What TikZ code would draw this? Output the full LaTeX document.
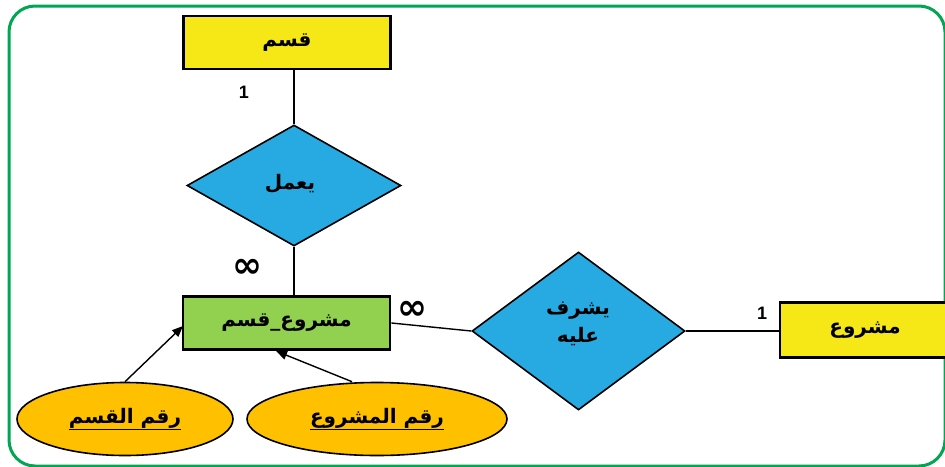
\documentclass[tikz,border=0pt]{standalone}
\usepackage{fontspec}
\setmainfont{DejaVu Sans}
\newfontfamily\arabicfont[Script=Arabic]{DejaVu Sans}
\newfontfamily\numfont{Liberation Sans}
\TeXXeTstate=1
\usetikzlibrary{shapes.geometric,arrows.meta}
\definecolor{frameGreen}{RGB}{0,166,81}
\definecolor{entYellow}{RGB}{245,232,22}
\definecolor{entGreen}{RGB}{146,208,80}
\definecolor{relBlue}{RGB}{38,170,225}
\definecolor{attrOrange}{RGB}{255,192,0}
\newcommand{\ar}[1]{{\arabicfont\bfseries\beginR #1\endR}}
\tikzset{
  arabic/.style={font=\fontsize{20}{23}\selectfont},
  entity/.style={draw=black, line width=2.8pt, minimum width=207pt, minimum height=53pt, inner sep=0pt, arabic},
  relation/.style={diamond, draw=black, line width=1.6pt, fill=relBlue, inner sep=0pt},
  attribute/.style={ellipse, draw=black, line width=1.6pt, fill=attrOrange, inner sep=0pt, arabic},
  link/.style={draw=black, line width=1.4pt},
  keyarrow/.style={link, -{Triangle[length=11pt,width=9pt]}},
  card/.style={font=\numfont\bfseries\fontsize{18}{20}\selectfont},
  infty/.style={font=\bfseries\fontsize{36}{38}\selectfont}
}
\begin{document}
\begin{tikzpicture}[x=1pt,y=-1pt]
\useasboundingbox (0,0) rectangle (945,466);
\begin{scope}
\clip (0,0) rectangle (945,466);
\draw[frameGreen, line width=3pt, rounded corners=26pt] (9,6) rectangle (945,466);

% entities
\node[entity, fill=entYellow] (dept) at (287,42.5) {\ar{قسم}};
\node[entity, fill=entGreen] (deptproj) at (286.5,323) {\ar{مشروع\_قسم}};
\node[entity, fill=entYellow, minimum width=170pt, minimum height=55pt] (proj) at (865,330) {\ar{مشروع}};

% relationships
\node[relation, minimum width=214pt, minimum height=121pt] (works) at (294,185.5) {};
\node[arabic] (workslbl) at (290,184) {\ar{يعمل}};
\node[relation, minimum width=213pt, minimum height=158pt] (super) at (578.5,331) {};
\node[align=center, font=\fontsize{20}{28}\selectfont] (superlbl) at (578,324) {\ar{يشرف}\\\ar{عليه}};

% attributes
\node[attribute, minimum width=216pt, minimum height=73pt] (deptno) at (125,419) {\underline{\hbox{\ar{رقم القسم}}}};
\node[attribute, minimum width=260pt, minimum height=73pt] (projno) at (377,419) {\underline{\hbox{\ar{رقم المشروع}}}};

% connectors
\draw[link] (dept.south -| works.north) -- (works.north);
\draw[link] (works.south) -- (works.south |- deptproj.north);
\draw[link] (deptproj.east) -- (super.west);
\draw[link] (super.east) -- (super.east -| proj.west);

\coordinate (a1) at (183,326);
\coordinate (a2) at (276,351);
\draw[keyarrow] (deptno.north) -- (a1);
\draw[keyarrow] (projno.north) ++(-25,0) coordinate (p2) -- (a2);

% cardinalities
\node[card] (c1) at (244,92) {1};
\node[infty] (c2) at (247,268) {∞};
\node[infty] (c3) at (412,310) {∞};
\node[card] (c4) at (762,313) {1};
\end{scope}
\end{tikzpicture}
\end{document}
